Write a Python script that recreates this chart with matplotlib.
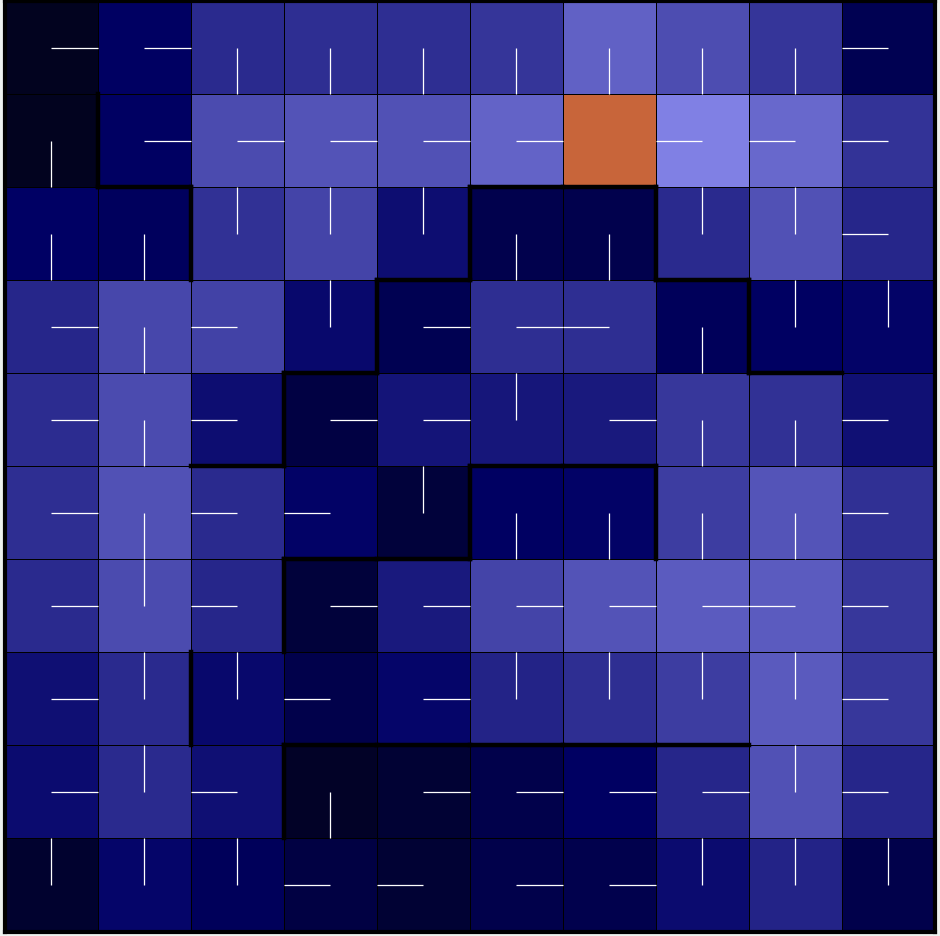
import numpy as np
import matplotlib
matplotlib.use("Agg")
import matplotlib.pyplot as plt
from matplotlib.colors import LinearSegmentedColormap
from matplotlib.collections import LineCollection

# State values of the 10x10 grid (row 0 = top); the goal cell is NaN
values = [
    [0.03, 0.29, 0.53, 0.55, 0.55, 0.59, 0.83, 0.72, 0.59, 0.23],
    [0.03, 0.29, 0.71, 0.75, 0.74, 0.84, np.nan, 1.00, 0.87, 0.58],
    [0.30, 0.27, 0.57, 0.67, 0.37, 0.21, 0.21, 0.53, 0.74, 0.51],
    [0.51, 0.69, 0.66, 0.34, 0.23, 0.55, 0.55, 0.26, 0.29, 0.32],
    [0.54, 0.71, 0.37, 0.17, 0.41, 0.42, 0.44, 0.60, 0.57, 0.39],
    [0.55, 0.74, 0.53, 0.31, 0.14, 0.29, 0.31, 0.63, 0.76, 0.56],
    [0.53, 0.71, 0.51, 0.14, 0.44, 0.67, 0.75, 0.80, 0.80, 0.60],
    [0.38, 0.53, 0.34, 0.20, 0.33, 0.49, 0.55, 0.63, 0.79, 0.60],
    [0.36, 0.53, 0.38, 0.06, 0.11, 0.20, 0.29, 0.51, 0.74, 0.51],
    [0.09, 0.33, 0.26, 0.17, 0.11, 0.20, 0.21, 0.36, 0.49, 0.20],
]

# Greedy policy per cell: R, L, U, D ('G' = goal)
policy = [
    "RRDDDDDDDL",
    "DRRRRRGLLL",
    "DDUUUDDUUL",
    "RDLURRLDUU",
    "RDLRRURDDL",
    "RDLLUDDDDL",
    "RULRRRRRLL",
    "RUULRUUUUL",
    "RULDRRRRUL",
    "UUULLRRUUU",
]

# Walls: vertical (row, x boundary) and horizontal (y boundary, col)
v_walls = [(1, 1), (2, 2), (2, 5), (2, 7), (3, 4), (3, 8), (4, 3),
           (5, 5), (5, 7), (6, 3), (7, 2), (8, 3)]
h_walls = [(2, 1), (2, 5), (2, 6), (3, 4), (3, 7), (4, 3), (4, 8),
           (5, 2), (5, 5), (5, 6), (6, 3), (6, 4),
           (8, 3), (8, 4), (8, 5), (8, 6), (8, 7)]

cmap = LinearSegmentedColormap.from_list(
    "maze", [(0.0, "#020318"), (0.3, "#000064"), (1.0, "#8080e4")])
cmap.set_bad("#c8653a")

fig = plt.figure(figsize=(9.4, 9.37), dpi=100, facecolor="#edf1ee")
ax = fig.add_axes([5 / 940, 4.5 / 937, 929.5 / 940, 930.5 / 937])

V = np.ma.masked_invalid(np.array(values, dtype=float))
n_rows, n_cols = V.shape
ax.pcolormesh(np.arange(n_cols + 1), np.arange(n_rows + 1), V, cmap=cmap,
              vmin=0, vmax=1, edgecolors="black", linewidth=0.6,
              antialiased=False)

dirs = {"R": (0.5, 0.0), "L": (-0.5, 0.0), "U": (0.0, -0.5), "D": (0.0, 0.5)}
segs = []
for r, row in enumerate(policy):
    for c, a in enumerate(row):
        if a in dirs:
            dx, dy = dirs[a]
            cx, cy = c + 0.5, r + 0.5
            segs.append([(cx, cy), (cx + dx, cy + dy)])
ax.add_collection(LineCollection(segs, colors="white", linewidths=0.9, zorder=3))

for r, x in v_walls:
    ax.plot([x, x], [r, r + 1], color="black", linewidth=3.2,
            solid_capstyle="projecting", zorder=5)
for y, c in h_walls:
    ax.plot([c, c + 1], [y, y], color="black", linewidth=3.2,
            solid_capstyle="projecting", zorder=5)

ax.set_xlim(0, n_cols)
ax.set_ylim(n_rows, 0)
ax.set_xticks([])
ax.set_yticks([])
for s in ax.spines.values():
    s.set_linewidth(3.0)
    s.set_color("black")

fig.savefig("out.png", dpi=100, facecolor=fig.get_facecolor())
